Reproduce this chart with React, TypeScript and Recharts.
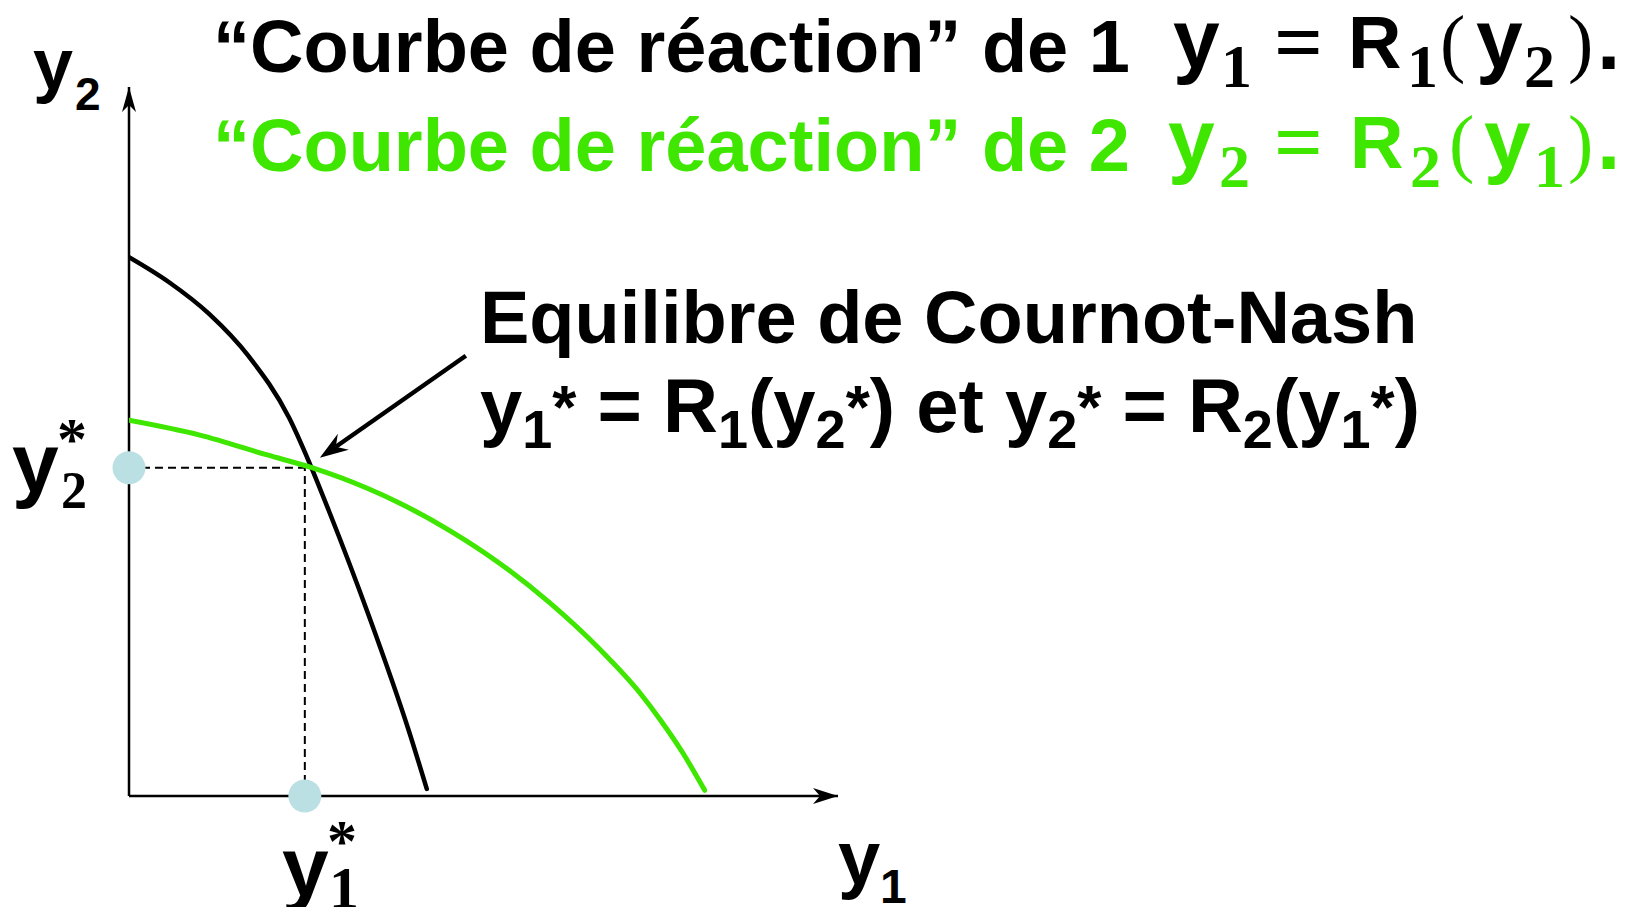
import { LineChart, Line, XAxis, YAxis, ReferenceLine, ReferenceDot } from "recharts";

const W = 1631;
const H = 907;

const BLACK = "#000000";
const GREEN = "#3fe600";
const DOT_FILL = "#bbe0e3";
const SANS = "'Liberation Sans', Arial, sans-serif";
const SERIF = "'Liberation Serif', 'Times New Roman', serif";

// reaction curve of firm 1 : y1 = R1(y2)
const r1Y1 = [0, 5.6, 11.3, 16.9, 22.6, 25.4, 28.2, 33.8, 39.5, 42.0];
const r1Y2 = [76.0, 72.5, 68.0, 62.0, 53.3, 47.1, 40.2, 25.5, 9.1, 1.0];

// reaction curve of firm 2 : y2 = R2(y1)
const r2Y1 = [0, 10.0, 19.5, 25.8, 33.6, 38.2, 45.3, 52.3, 59.4, 66.4, 72.1, 74.9, 78.1, 81.2];
const r2Y2 = [53.0, 50.9, 48.1, 46.3, 43.4, 41.3, 37.4, 32.8, 27.2, 20.7, 14.5, 10.8, 6.1, 0.8];

// Cournot-Nash equilibrium (y1*, y2*)
const eqY1 = 24.8;
const eqY2 = 46.3;

const AXIS_MAX = 100;

const title1 = "\u201cCourbe de r\u00e9action\u201d de 1";
const title2 = "\u201cCourbe de r\u00e9action\u201d de 2";
const eqTitle = "Equilibre de Cournot-Nash";

const reaction1 = r1Y1.map((x, i) => ({ x, y: r1Y2[i] }));
const reaction2 = r2Y1.map((x, i) => ({ x, y: r2Y2[i] }));

const ArrowUp = (p: any) => {
  const { cx, cy } = p;
  return <path d={`M${cx},${cy} L${cx - 7},${cy + 25} L${cx},${cy + 18} L${cx + 7},${cy + 25} Z`} fill={BLACK} />;
};

const ArrowRight = (p: any) => {
  const { cx, cy } = p;
  return <path d={`M${cx},${cy} L${cx - 25},${cy - 8} L${cx - 18},${cy} L${cx - 25},${cy + 8} Z`} fill={BLACK} />;
};

// pointer from the "Equilibre" text down to the crossing point
const Pointer = (p: any) => {
  const tx = p.cx + 15;
  const ty = p.cy - 10;
  return (
    <g>
      <line x1={tx + 146} y1={ty - 102} x2={tx + 16} y2={ty - 11} stroke={BLACK} strokeWidth={4.5} />
      <path d={`M${tx},${ty} L${tx + 18},${ty - 24} L${tx + 16},${ty - 11} L${tx + 29},${ty - 8} Z`} fill={BLACK} />
    </g>
  );
};

const sub = { fontFamily: SERIF, fontWeight: "bold" as const };

export default function App() {
  return (
    <div style={{ position: "absolute", left: 0, top: 0, width: W, height: H, background: "#fff" }}>
      <LineChart width={W} height={H} margin={{ top: 87, right: 793, bottom: 111, left: 129 }}>
        <XAxis type="number" dataKey="x" domain={[0, AXIS_MAX]} hide allowDataOverflow />
        <YAxis type="number" dataKey="y" domain={[0, AXIS_MAX]} hide allowDataOverflow />
        {/* axes */}
        <ReferenceLine segment={[{ x: 0, y: 0 }, { x: AXIS_MAX, y: 0 }]} stroke={BLACK} strokeWidth={2.5} />
        <ReferenceLine segment={[{ x: 0, y: 0 }, { x: 0, y: AXIS_MAX }]} stroke={BLACK} strokeWidth={2.5} />
        {/* guides to the equilibrium */}
        <ReferenceLine
          segment={[{ x: 0, y: eqY2 }, { x: eqY1, y: eqY2 }]}
          stroke={BLACK}
          strokeWidth={2}
          strokeDasharray="8 5"
        />
        <ReferenceLine
          segment={[{ x: eqY1, y: 0 }, { x: eqY1, y: eqY2 }]}
          stroke={BLACK}
          strokeWidth={2}
          strokeDasharray="8 5"
        />
        <Line
          data={reaction1}
          dataKey="y"
          type="monotone"
          stroke={BLACK}
          strokeWidth={4.5}
          dot={false}
          strokeLinecap="round"
          isAnimationActive={false}
        />
        <Line
          data={reaction2}
          dataKey="y"
          type="monotone"
          stroke={GREEN}
          strokeWidth={5}
          dot={false}
          strokeLinecap="round"
          isAnimationActive={false}
        />
        <ReferenceDot x={0} y={eqY2} r={16.5} fill={DOT_FILL} stroke="none" />
        <ReferenceDot x={eqY1} y={0} r={16.5} fill={DOT_FILL} stroke="none" />
        <ReferenceDot x={0} y={AXIS_MAX} shape={ArrowUp} />
        <ReferenceDot x={AXIS_MAX} y={0} shape={ArrowRight} />
        <ReferenceDot x={eqY1} y={eqY2} shape={Pointer} />
      </LineChart>

      <svg width={W} height={H} style={{ position: "absolute", left: 0, top: 0, pointerEvents: "none" }}>
        {/* titles */}
        <text x={213} y={72} fontFamily={SANS} fontWeight="bold" fontSize={74} fill={BLACK}>{title1}</text>
        <text x={213} y={171} fontFamily={SANS} fontWeight="bold" fontSize={74} fill={GREEN}>{title2}</text>

        {/* y1 = R1(y2). */}
        <g fill={BLACK}>
          <text x={1173} y={68} fontFamily={SANS} fontWeight="bold" fontSize={84}>y</text>
          <text x={1221} y={87} {...sub} fontSize={62}>1</text>
          <text x={1274} y={71} {...sub} fontSize={86}>=</text>
          <text x={1348} y={68} fontFamily={SANS} fontWeight="bold" fontSize={74}>R</text>
          <text x={1407} y={87} {...sub} fontSize={62}>1</text>
          <text x={1440} y={68} fontFamily={SERIF} fontSize={76}>(</text>
          <text x={1476} y={68} fontFamily={SANS} fontWeight="bold" fontSize={84}>y</text>
          <text x={1524} y={87} {...sub} fontSize={62}>2</text>
          <text x={1568} y={68} fontFamily={SERIF} fontSize={76}>)</text>
          <text x={1597} y={69} fontFamily={SANS} fontWeight="bold" fontSize={84}>.</text>
        </g>
        {/* y2 = R2(y1). */}
        <g fill={GREEN}>
          <text x={1168} y={168} fontFamily={SANS} fontWeight="bold" fontSize={84}>y</text>
          <text x={1219} y={187} {...sub} fontSize={62}>2</text>
          <text x={1274} y={171} {...sub} fontSize={86}>=</text>
          <text x={1350} y={168} fontFamily={SANS} fontWeight="bold" fontSize={74}>R</text>
          <text x={1410} y={187} {...sub} fontSize={62}>2</text>
          <text x={1449} y={168} fontFamily={SERIF} fontSize={76}>(</text>
          <text x={1484} y={168} fontFamily={SANS} fontWeight="bold" fontSize={84}>y</text>
          <text x={1534} y={187} {...sub} fontSize={62}>1</text>
          <text x={1568} y={168} fontFamily={SERIF} fontSize={76}>)</text>
          <text x={1597} y={169} fontFamily={SANS} fontWeight="bold" fontSize={84}>.</text>
        </g>

        {/* equilibrium annotation */}
        <text x={480} y={343} fontFamily={SANS} fontWeight="bold" fontSize={74} fill={BLACK}>{eqTitle}</text>
        <text x={480} y={432} fontFamily={SANS} fontWeight="bold" fontSize={76} fill={BLACK}>
          y<tspan y={448} fontSize={54}>1</tspan><tspan y={428} fontSize={62}>*</tspan>
          <tspan y={432}> = R</tspan><tspan y={448} fontSize={54}>1</tspan>
          <tspan y={432}>(y</tspan><tspan y={448} fontSize={54}>2</tspan><tspan y={428} fontSize={62}>*</tspan>
          <tspan y={432}>) et y</tspan><tspan y={448} fontSize={54}>2</tspan><tspan y={428} fontSize={62}>*</tspan>
          <tspan y={432}> = R</tspan><tspan y={448} fontSize={54}>2</tspan>
          <tspan y={432}>(y</tspan><tspan y={448} fontSize={54}>1</tspan><tspan y={428} fontSize={62}>*</tspan>
          <tspan y={432}>)</tspan>
        </text>

        {/* axis labels */}
        <text x={33} y={89} fontFamily={SANS} fontWeight="bold" fontSize={72} fill={BLACK}>y</text>
        <text x={75} y={110} fontFamily={SANS} fontWeight="bold" fontSize={46} fill={BLACK}>2</text>

        <text x={838} y={884} fontFamily={SANS} fontWeight="bold" fontSize={76} fill={BLACK}>y</text>
        <text x={880} y={903} fontFamily={SANS} fontWeight="bold" fontSize={48} fill={BLACK}>1</text>

        {/* y2* on the vertical axis */}
        <text x={12} y={492} fontFamily={SANS} fontWeight="bold" fontSize={84} fill={BLACK}>y</text>
        <text x={61} y={508} {...sub} fontSize={52}>2</text>
        <text x={72} y={459} fontFamily={SERIF} fontWeight="bold" fontSize={60} textAnchor="middle" fill={BLACK}>*</text>

        {/* y1* under the horizontal axis */}
        <text x={282} y={896} fontFamily={SANS} fontWeight="bold" fontSize={84} fill={BLACK}>y</text>
        <text x={329} y={908} {...sub} fontSize={60}>1</text>
        <text x={342} y={861} fontFamily={SERIF} fontWeight="bold" fontSize={60} textAnchor="middle" fill={BLACK}>*</text>
      </svg>
    </div>
  );
}
